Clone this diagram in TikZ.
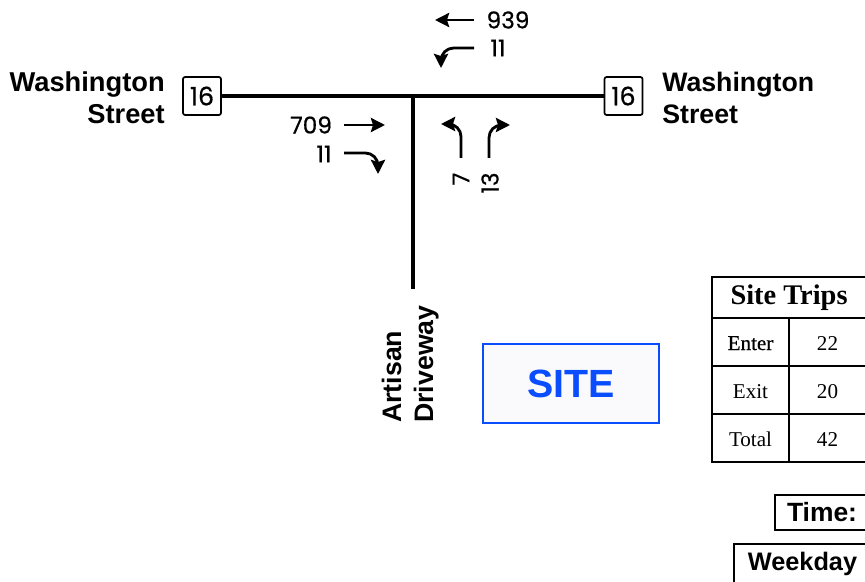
\documentclass[tikz,border=0pt]{standalone}
\usepackage{fontspec}
\setmainfont{Liberation Serif}
\setsansfont{Liberation Sans}
\newfontfamily\volfont[FakeBold=0.6]{Poppins}
\newfontfamily\darkfont[FakeBold=0.7]{Liberation Serif}
\usetikzlibrary{positioning,arrows.meta}
\definecolor{SiteBlue}{HTML}{0A4DFF}
\definecolor{SiteTint}{HTML}{FAFAFC}
\tikzset{
  road/.style={line width=2.25pt, black},
  flow/.style={-{Stealth[length=10pt,width=10pt,inset=1.5pt]}, line width=2pt, black},
  turn/.style={flow, rounded corners=9pt},
  shield/.style={draw, line width=1.2pt, fill=white, rounded corners=1.5pt, inner sep=0pt,
                 minimum width=0.95cm, minimum height=0.95cm, font=\volfont\fontsize{18}{20}\selectfont},
  street/.style={font=\sffamily\bfseries\fontsize{19}{22.8}\selectfont, inner sep=0pt},
  vol/.style={font=\volfont\fontsize{16.5}{19}\selectfont, inner sep=0pt},
  cell/.style={draw, line width=1.9pt, inner sep=0pt, outer sep=0pt, minimum height=1.2cm,
               text height=0.4cm, text depth=0pt, font=\fontsize{15}{17}\selectfont},
  tag/.style={draw, line width=1.9pt, inner sep=0pt, outer sep=0pt, anchor=north west,
              font=\sffamily\bfseries\fontsize{18.8}{22}\selectfont},
}
\begin{document}
\begin{tikzpicture}[x=0.025cm, y=-0.025cm]
  \clip (0,0) rectangle (865,582);
  % roads
  \node[shield] (shieldW) at (202,96) {16};
  \node[shield] (shieldE) at (623.5,96) {16};
  \coordinate (tee) at (413,96);
  \coordinate (drvEnd) at (413,289);
  \draw[road] (shieldW) -- (shieldE);
  \draw[road] (tee) -- (drvEnd);
  \node[street, font=\sffamily\bfseries\fontsize{19.4}{22.8}\selectfont, align=right, anchor=east] (washW) at (165,98) {Washington\\Street};
  \node[street, align=left, anchor=west] (washE) at (662,98) {Washington\\Street};
  \node[street, align=left, rotate=90, anchor=south west] (artisan) at (439,423) {Artisan\\Driveway};
  % volumes
  \node[vol] (volTh) at (508,20) {939};
  \node[vol] (volLt) at (498,48) {11};
  \node[vol] (volEb) at (311,125) {709};
  \node[vol] (volRt) at (324,154) {11};
  \node[vol, rotate=90] (volNl) at (461,179) {7};
  \node[vol, rotate=90] (volNr) at (490,183) {13};
  \coordinate (thEnd) at (435,20);
  \coordinate (ltEnd) at (441,68);
  \coordinate (ebEnd) at (385,125);
  \coordinate (rtEnd) at (378,174);
  \coordinate (nlEnd) at (441,124);
  \coordinate (nrEnd) at (510,125);
  \draw[flow] (474,20) -- (thEnd);
  \draw[turn] (474,48) -| (ltEnd);
  \draw[flow] (344,125) -- (ebEnd);
  \draw[turn] (344,153) -| (rtEnd);
  \draw[turn] (461,158) |- (nlEnd);
  \draw[turn] (489,158) |- (nrEnd);
  % site
  \node[draw=SiteBlue, line width=1.1pt, fill=SiteTint, minimum width=4.4cm, minimum height=1.975cm,
        text=SiteBlue, font=\sffamily\bfseries\fontsize{28}{30}\selectfont] (site) at (571,383.5) {SITE};
  % table
  \node[cell, anchor=north west, minimum width=3.95cm, minimum height=1.025cm, text height=0.33cm,
        font=\bfseries\fontsize{20.2}{23}\selectfont] (title) at (712,277) {\hspace{-0.1cm}Site Trips\hspace{0.1cm}};
  \node[cell, anchor=north west, minimum width=1.925cm] (enter) at (title.south west) {\darkfont Enter};
  \node[cell, anchor=north west, minimum width=2.025cm] (enterN) at (enter.north east) {\hspace{-0.1cm}22};
  \node[cell, anchor=north west, minimum width=1.925cm] (exit) at (enter.south west) {Exit};
  \node[cell, anchor=north west, minimum width=2.025cm] (exitN) at (exit.north east) {\hspace{-0.1cm}20};
  \node[cell, anchor=north west, minimum width=1.925cm] (total) at (exit.south west) {Total};
  \node[cell, anchor=north west, minimum width=2.025cm] (totalN) at (total.north east) {\hspace{-0.1cm}42};
  % period
  \node[tag, minimum width=2.4cm, minimum height=0.875cm, text width=2.1cm, align=left] (time) at (775,495) {\hspace{0.15cm}Time:};
  \node[tag, minimum width=3.5cm, minimum height=1.6cm] (day) at (734,544) {};
  \node[street, font=\sffamily\bfseries\fontsize{18}{22}\selectfont, anchor=center] (dayText) at (802.5,564) {Weekday};
\end{tikzpicture}
\end{document}
